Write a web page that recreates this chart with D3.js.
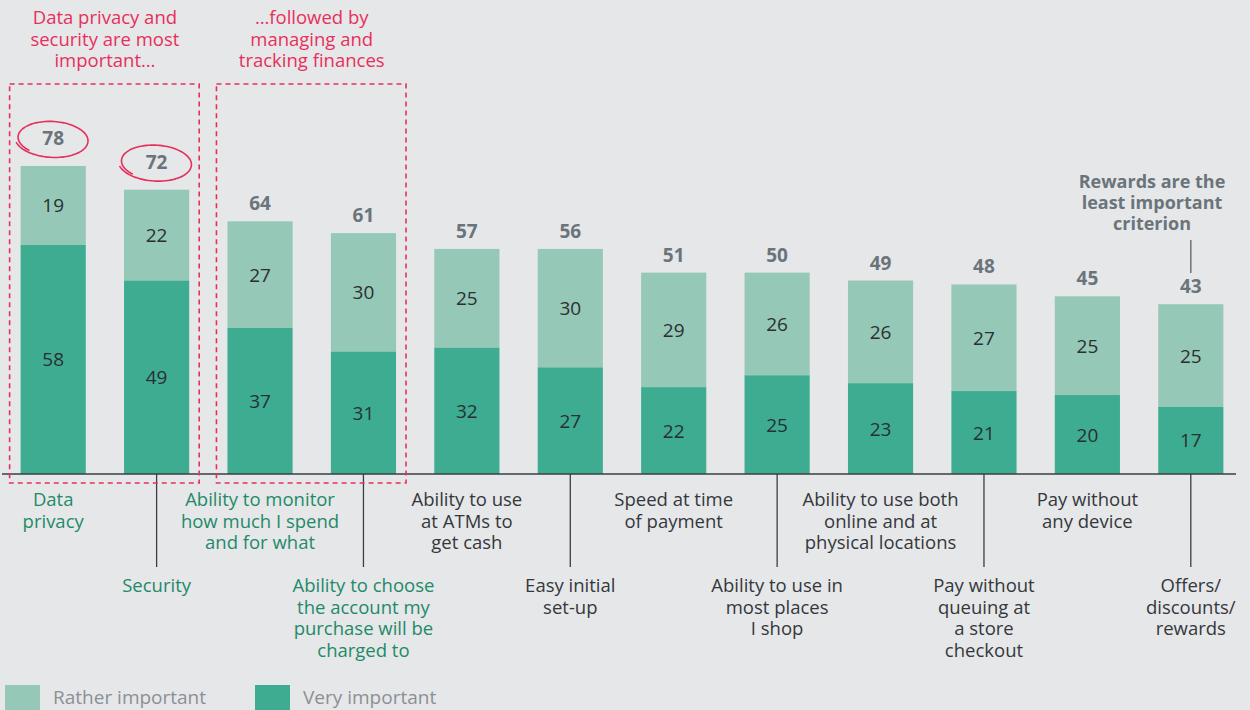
<!DOCTYPE html>
<html>
<head>
<meta charset="utf-8">
<script src="https://cdn.jsdelivr.net/npm/d3@7"></script>
<style>
  body { margin: 0; background: #e6e7e9; }
  svg { display: block; font-family: "Open Sans", sans-serif; }
</style>
</head>
<body>
<div id="chart"></div>
<script>
// data
const categories = [
  ["Data", "privacy"],
  ["Security"],
  ["Ability to monitor", "how much I spend", "and for what"],
  ["Ability to choose", "the account my", "purchase will be", "charged to"],
  ["Ability to use", "at ATMs to", "get cash"],
  ["Easy initial", "set-up"],
  ["Speed at time", "of payment"],
  ["Ability to use in", "most places", "I shop"],
  ["Ability to use both", "online and at", "physical locations"],
  ["Pay without", "queuing at", "a store", "checkout"],
  ["Pay without", "any device"],
  ["Offers/", "discounts/", "rewards"]
];
const veryImportant = [58, 49, 37, 31, 32, 27, 22, 25, 23, 21, 20, 17];
const ratherImportant = [19, 22, 27, 30, 25, 30, 29, 26, 26, 27, 25, 25];
const totals = [78, 72, 64, 61, 57, 56, 51, 50, 49, 48, 45, 43];
const highlighted = [0, 1, 2, 3];   // green labels
const circled = [0, 1];

const width = 1250, height = 710;
const base = 474;

const svg = d3.select('#chart').append('svg')
  .attr('width', width).attr('height', height);

const x = d3.scaleBand()
  .domain(d3.range(categories.length))
  .range([2, 1242])
  .paddingInner(0.37)
  .paddingOuter(0.18);

const y = d3.scaleLinear()
  .domain([0, 78])
  .range([base, 166]);

const cLight = '#95c8b6', cDark = '#3dac91';
const pink = '#e6305c';

// bars
const g = svg.append('g');
categories.forEach((c, i) => {
  const v = veryImportant[i], r = ratherImportant[i];
  const top = Math.max(v + r, totals[i]);
  g.append('rect')
    .attr('x', x(i)).attr('width', x.bandwidth())
    .attr('y', y(top)).attr('height', y(v) - y(top))
    .attr('fill', cLight);
  g.append('rect')
    .attr('x', x(i)).attr('width', x.bandwidth())
    .attr('y', y(v)).attr('height', base - y(v))
    .attr('fill', cDark);

  const cx = x(i) + x.bandwidth() / 2;
  g.append('text').attr('x', cx).attr('y', (y(v) + base) / 2 + 7)
    .attr('text-anchor', 'middle').attr('font-size', 19).attr('fill', '#2a2f33')
    .text(v);
  g.append('text').attr('x', cx).attr('y', (y(v) + y(top)) / 2 + 7)
    .attr('text-anchor', 'middle').attr('font-size', 19).attr('fill', '#2a2f33')
    .text(r);
  const lift = circled.includes(i) ? 21 : 11;
  g.append('text').attr('x', cx).attr('y', y(top) - lift)
    .attr('text-anchor', 'middle').attr('font-size', 19).attr('font-weight', 700)
    .attr('fill', '#6a747b')
    .text(totals[i]);
});

// hand-drawn style loops around the top two totals
circled.forEach(i => {
  const cx = x(i) + x.bandwidth() / 2 - 1;
  const cy = y(totals[i]) - 27;
  const rx = 34, ry = 17;
  const pts = d3.range(0, 1.1, 0.01).map(t => {
    const a = Math.PI * 0.72 + t * Math.PI * 2;
    const k = 1 + 0.1 * t;
    const px = rx * k * Math.cos(a), py = ry * k * Math.sin(a);
    // slight tilt
    return [cx + px * 0.99 - py * 0.1, cy + py * 0.99 + px * 0.07];
  });
  svg.append('path')
    .attr('d', d3.line().curve(d3.curveBasis)(pts))
    .attr('fill', 'none').attr('stroke', pink).attr('stroke-width', 1.6);
});

// axis
svg.append('line')
  .attr('x1', 2).attr('x2', 1236).attr('y1', base).attr('y2', base)
  .attr('stroke', '#3a3f44').attr('stroke-width', 1.3);

// category labels
const lh = 21.6;
categories.forEach((lines, i) => {
  const cx = x(i) + x.bandwidth() / 2;
  const lower = i % 2 === 1;
  const y0 = lower ? 592 : 506;
  if (lower) {
    svg.append('line')
      .attr('x1', cx).attr('x2', cx).attr('y1', base).attr('y2', 567)
      .attr('stroke', '#3a3f44').attr('stroke-width', 1.3);
  }
  const t = svg.append('text')
    .attr('text-anchor', 'middle').attr('font-size', 18.5)
    .attr('fill', highlighted.includes(i) ? '#1f8a68' : '#34383c');
  lines.forEach((s, j) => {
    t.append('tspan').attr('x', cx).attr('y', y0 + j * lh).text(s);
  });
});

// dashed highlight boxes
[[0, 1], [2, 3]].forEach(([a, b]) => {
  const x0 = x(a) - 11, x1 = x(b) + x.bandwidth() + 10;
  svg.append('rect')
    .attr('x', x0).attr('y', 84).attr('width', x1 - x0).attr('height', 399)
    .attr('fill', 'none').attr('stroke', pink).attr('stroke-width', 1.6)
    .attr('stroke-dasharray', '5,4');
});

// pink notes
const notes = [
  { i: 0, lines: ["Data privacy and", "security are most", "important\u2026"] },
  { i: 2, lines: ["\u2026followed by", "managing and", "tracking finances"] }
];
notes.forEach(n => {
  const cx = (x(n.i) + x(n.i + 1) + x.bandwidth()) / 2;
  const t = svg.append('text').attr('text-anchor', 'middle')
    .attr('font-size', 18.5).attr('fill', pink);
  n.lines.forEach((s, j) => t.append('tspan').attr('x', cx).attr('y', 24 + j * 21.6).text(s));
});

// rewards annotation
const last = categories.length - 1;
const lx = x(last) + x.bandwidth() / 2;
const at = svg.append('text').attr('text-anchor', 'middle')
  .attr('font-size', 18).attr('font-weight', 700).attr('fill', '#6a747b');
["Rewards are the", "least important", "criterion"].forEach((s, j) =>
  at.append('tspan').attr('x', 1152).attr('y', 188 + j * 21).text(s));
svg.append('line')
  .attr('x1', lx).attr('x2', lx).attr('y1', 240).attr('y2', 273)
  .attr('stroke', '#6a747b').attr('stroke-width', 1.5);

// legend
const legend = [["Rather important", cLight, 5], ["Very important", cDark, 255]];
legend.forEach(([label, col, lx0]) => {
  svg.append('rect').attr('x', lx0).attr('y', 685).attr('width', 35).attr('height', 25).attr('fill', col);
  svg.append('text').attr('x', lx0 + 48).attr('y', 704)
    .attr('font-size', 19).attr('fill', '#8a9095').text(label);
});
</script>
</body>
</html>
